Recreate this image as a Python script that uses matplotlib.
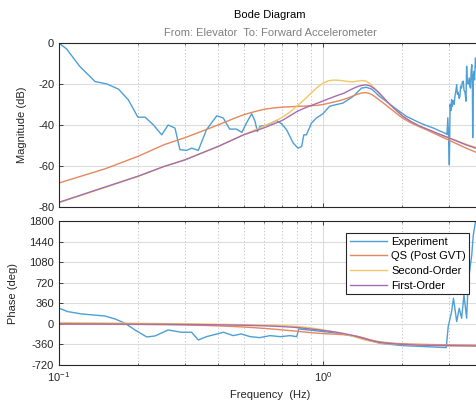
import numpy as np
import matplotlib
matplotlib.use('Agg')
import matplotlib.pyplot as plt
from matplotlib.ticker import LogLocator, NullFormatter, FixedLocator

plt.rcParams['font.family'] = ['Liberation Sans', 'DejaVu Sans']
plt.rcParams['font.size'] = 8
plt.rcParams['mathtext.fontset'] = 'custom'
plt.rcParams['mathtext.rm'] = 'Liberation Sans'
plt.rcParams['mathtext.default'] = 'regular'
plt.rcParams['axes.unicode_minus'] = False

# Experiment
exp_mag_f = [0.100, 0.107, 0.120, 0.137, 0.152, 0.168, 0.183, 0.199, 0.212, 0.228,
             0.245, 0.259, 0.275, 0.287, 0.304, 0.318, 0.337, 0.362, 0.396, 0.419,
             0.443, 0.470, 0.493, 0.514, 0.537, 0.553, 0.564, 0.577, 0.612, 0.640,
             0.667, 0.697, 0.728, 0.771, 0.804, 0.830, 0.846, 0.865, 0.905, 0.944,
             1.00, 1.06, 1.19, 1.30, 1.40, 1.46, 1.53, 1.64, 1.84, 2.07,
             2.33, 2.46, 2.62, 2.78, 2.93, 2.95, 2.97, 2.99, 3.01, 3.03,
             3.05, 3.07, 3.09, 3.11, 3.14, 3.16, 3.18, 3.21, 3.23, 3.25,
             3.28, 3.30, 3.32, 3.35, 3.37, 3.40, 3.42, 3.45, 3.48, 3.50,
             3.52, 3.55, 3.58, 3.60, 3.62, 3.64, 3.66, 3.68, 3.69, 3.71,
             3.73, 3.75, 3.78, 3.80, 3.84, 3.90]
exp_mag = [0, -3, -11.5, -18.8, -20, -22.5, -27.7, -36.2, -36.2, -40,
           -44.8, -40, -41.5, -52, -52.4, -51.3, -52.4, -42.3, -35.5, -36.6,
           -42, -42, -43.6, -38.8, -34.5, -38.3, -43.2, -40.7, -40, -39,
           -37.8, -39.4, -42.3, -48.8, -51.3, -50.5, -44.8, -44.8, -39, -36.6,
           -34.5, -30.8, -29.3, -26.1, -22, -21.6, -22.5, -26.1, -31, -35.8,
           -39, -40.2, -41.5, -43.0, -44.2, -44.6, -36.5, -45, -59.5, -30,
           -33, -27.6, -31, -28, -30, -26, -24, -20.3, -25, -24,
           -27, -26, -21, -22, -19, -18.6, -23, -24, -28.4, -11.3,
           -19, -20, -17, -21, -22, -14, -10.6, -20, -46.2, -16,
           -13.8, -18, -7.3, -12, -9, -14]

exp_ph_f = [0.100, 0.108, 0.122, 0.149, 0.163, 0.178, 0.194, 0.215, 0.231, 0.259,
            0.291, 0.318, 0.337, 0.362, 0.420, 0.457, 0.490, 0.530, 0.576, 0.630,
            0.690, 0.750, 0.795, 0.810, 0.880, 1.06, 1.15, 1.38, 1.64, 2.00,
            2.46, 2.93, 2.98, 3.07, 3.12, 3.21, 3.28, 3.35, 3.42, 3.50,
            3.55, 3.66, 3.71, 3.80, 3.90]
exp_ph = [273, 214, 173, 138, 86, 10, -107, -229, -212, -107,
          -147, -147, -282, -224, -147, -206, -177, -224, -241, -206,
          -224, -206, -224, -89, -107, -147, -165, -241, -340, -381,
          -399, -416, -49, 214, 448, 39, 273, 98, 506, 98,
          739, 1206, 1556, 1848, 2100]

# Models
mod_f = [0.10, 0.15, 0.20, 0.25, 0.30, 0.35, 0.40, 0.45, 0.50, 0.55,
         0.60, 0.65, 0.70, 0.75, 0.80, 0.85, 0.90, 0.95, 1.00, 1.05,
         1.10, 1.15, 1.20, 1.25, 1.30, 1.35, 1.40, 1.45, 1.50, 1.55,
         1.60, 1.65, 1.70, 1.80, 1.90, 2.00, 2.15, 2.33, 2.50, 2.75,
         3.00, 3.50, 4.00]
qs_mag = [-68.3, -61.3, -55.2, -49.6, -46.2, -42.9, -40.0, -37.3, -35.0, -33.5,
          -32.3, -31.7, -31.3, -31.1, -30.9, -30.8, -30.6, -30.4, -30.0, -29.4,
          -28.8, -28.2, -27.5, -26.7, -25.8, -25.0, -24.4, -24.2, -24.6, -25.6,
          -26.9, -28.2, -29.5, -32.0, -34.4, -36.6, -38.9, -41.0, -42.7, -45.2,
          -47.4, -51.4, -54.5]
so_mag = [-77.9, -70.4, -65.0, -60.3, -57.0, -53.5, -50.5, -47.5, -44.8, -42.5,
          -40.4, -38.5, -36.3, -33.6, -30.6, -27.6, -24.5, -21.7, -19.6, -18.4,
          -18.1, -18.2, -18.5, -18.8, -18.9, -18.6, -18.3, -18.5, -19.6, -21.5,
          -23.3, -25.2, -27.0, -30.2, -33.0, -35.6, -38.3, -40.6, -42.3, -44.4,
          -46.2, -49.5, -51.8]
fo_mag = [-77.7, -70.2, -64.9, -60.2, -57.0, -53.5, -50.5, -47.5, -44.8, -43.0,
          -41.3, -39.5, -37.8, -35.5, -33.3, -31.8, -30.5, -29.4, -28.3, -27.2,
          -26.2, -25.3, -24.5, -23.3, -22.2, -21.3, -20.7, -20.4, -20.8, -21.9,
          -23.3, -25.0, -26.8, -30.2, -33.0, -35.6, -38.3, -40.6, -42.2, -44.4,
          -46.3, -49.8, -52.3]
qs_ph = [-5, -8, -10, -15, -20, -27, -35, -45, -55, -67,
         -80, -92, -105, -118, -130, -142, -155, -163, -170, -175,
         -180, -185, -190, -197, -205, -218, -235, -255, -275, -292,
         -305, -315, -323, -335, -343, -348, -354, -358, -361, -365,
         -368, -372, -375]
so_ph = [22, 15, 10, 5, 0, -4, -8, -12, -15, -18,
         -22, -26, -30, -37, -45, -56, -70, -87, -105, -122,
         -140, -157, -175, -197, -220, -243, -265, -285, -300, -315,
         -326, -335, -342, -350, -357, -362, -367, -372, -375, -379,
         -382, -386, -390]
fo_ph = [0, -2, -5, -7, -10, -13, -17, -21, -25, -30,
         -35, -41, -48, -56, -65, -77, -90, -102, -115, -127,
         -140, -155, -170, -187, -205, -225, -245, -265, -285, -301,
         -315, -326, -334, -345, -353, -360, -366, -372, -375, -379,
         -382, -385, -388]

labels = ['Experiment', 'QS (Post GVT)', 'Second-Order', 'First-Order']
colors = ['#4d9fd6', '#e4875e', '#f2c863', '#a56db0']

fig = plt.figure(figsize=(4.76, 4.03), dpi=100)
W, H = 476, 403
ax1 = fig.add_axes([59 / W, 1 - 207 / H, 421 / W, 164 / H])
ax2 = fig.add_axes([59 / W, 1 - 365 / H, 421 / W, 144 / H])

ax1.semilogx(exp_mag_f, exp_mag, color=colors[0], lw=1.0)
ax1.semilogx(mod_f, qs_mag, color=colors[1], lw=1.0)
ax1.semilogx(mod_f, so_mag, color=colors[2], lw=1.0)
ax1.semilogx(mod_f, fo_mag, color=colors[3], lw=1.0)

ax2.semilogx(exp_ph_f, exp_ph, color=colors[0], lw=1.0, label=labels[0])
ax2.semilogx(mod_f, qs_ph, color=colors[1], lw=1.0, label=labels[1])
ax2.semilogx(mod_f, so_ph, color=colors[2], lw=1.0, label=labels[2])
ax2.semilogx(mod_f, fo_ph, color=colors[3], lw=1.0, label=labels[3])

ax1.set_ylim(-80, 0)
ax1.set_yticks([-80, -60, -40, -20, 0])
ax2.set_ylim(-720, 1800)
ax2.set_yticks(np.arange(-720, 1801, 360))

for ax in (ax1, ax2):
    ax.set_xlim(0.1, 10 ** (-1 + 421 / 264))
    ax.xaxis.set_major_locator(FixedLocator([0.1, 1.0]))
    ax.xaxis.set_minor_locator(LogLocator(base=10, subs=np.arange(2, 10)))
    ax.xaxis.set_minor_formatter(NullFormatter())
    ax.set_axisbelow(True)
    ax.grid(which='major', color='#dcdcdc', lw=0.8, ls='-')
    ax.grid(which='minor', axis='x', color='#bdbdbd', lw=0.6, ls=(0, (1.5, 2.5)))
    ax.tick_params(which='both', direction='in', top=True, right=True,
                   colors='#262626', labelsize=8)
    ax.tick_params(which='major', length=3, width=0.6)
    ax.tick_params(which='minor', length=1.5, width=0.5)
    for s in ax.spines.values():
        s.set_color('#262626')
        s.set_linewidth(0.8)

ax1.set_xticklabels([])
ax1.set_ylabel('Magnitude (dB)', fontsize=8, color='#262626')
ax2.set_ylabel('Phase (deg)', fontsize=8, color='#262626')
ax1.yaxis.set_label_coords(-0.076, 0.5)
ax2.yaxis.set_label_coords(-0.097, 0.5)

fig.text(270 / W, 1 - 15 / H, 'Bode Diagram', ha='center', va='center', fontsize=8)
fig.text(270 / W, 1 - 33 / H, 'From: Elevator  To: Forward Accelerometer',
         ha='center', va='center', fontsize=8, color='#808080')
fig.text(270 / W, 1 - 395 / H, 'Frequency  (Hz)', ha='center', va='center',
         fontsize=8, color='#262626')

leg = ax2.legend(loc='upper right', bbox_to_anchor=(0.9746, 0.9146), borderaxespad=0,
                 fancybox=False, framealpha=1, edgecolor='#262626', fontsize=8,
                 handlelength=3.4, handletextpad=0.35, labelspacing=0.42,
                 borderpad=0.3)
leg.get_frame().set_linewidth(0.8)

fig.savefig('out.png', dpi=100)
